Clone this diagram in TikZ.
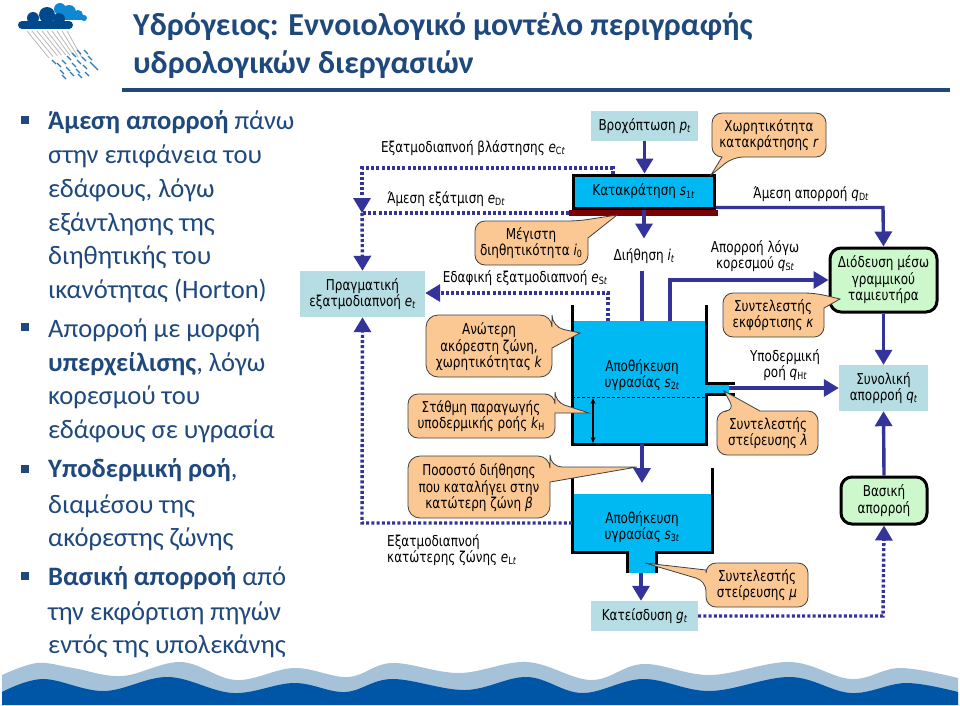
\documentclass[tikz,border=0pt]{standalone}
\usepackage{fontspec}
\setmainfont{Carlito}
\newfontfamily\diagfont[FakeStretch=0.8]{DejaVu Sans}
\usetikzlibrary{arrows.meta}
\definecolor{navy}{HTML}{1F497D}
\definecolor{flowc}{HTML}{333399}
\definecolor{teal}{HTML}{B7DDE4}
\definecolor{waterc}{HTML}{00B9F2}
\definecolor{greenb}{HTML}{CCF8CC}
\definecolor{orangeb}{HTML}{FBC894}
\definecolor{barred}{HTML}{7B0000}
\definecolor{wavel}{HTML}{A6C2D8}
\definecolor{waved}{HTML}{0056A6}
\newcommand\subs[1]{\lower 2.2pt\hbox{\fontsize{10}{10}\selectfont #1}}
\newcommand\dfont{\diagfont\fontsize{15}{16.5}\selectfont}
\tikzset{
  x=1pt,y=-1pt,
  flow/.style={draw=flowc,line width=3.4pt,-{Triangle[length=15pt,width=17pt,fill=flowc]}},
  flowplain/.style={draw=flowc,line width=3.4pt},
  dots/.style={draw=flowc,line width=3.4pt,dash pattern=on 3pt off 2.2pt},
  dotsarrow/.style={dots,-{Triangle[length=15pt,width=17pt,fill=flowc]}},
  wall/.style={draw=black,line width=3pt},
  tealbox/.style={fill=teal,inner sep=0pt,align=center,font=\dfont},
  greenbox/.style={fill=greenb,draw=black,line width=3pt,rounded corners=11pt,inner sep=0pt,align=center,font=\dfont},
  lab/.style={font=\dfont,align=center,inner sep=0pt,text=black},
  calloutshape/.style={fill=orangeb,draw=black!75,line width=.8pt},
  tit/.style={font=\fontsize{32}{32}\selectfont\bfseries,text=navy,anchor=base west,inner sep=0pt},
  bod/.style={font=\fontsize{26.6}{28}\selectfont,text=navy,anchor=base west,inner sep=0pt},
  bul/.style={fill=navy,minimum size=8pt,inner sep=0pt},
}
\newcommand\bline[3]{\node[bod] (#1) at (48,#2) {#3};}
\begin{document}
\begin{tikzpicture}
\path[use as bounding box,fill=white] (0,0) rectangle (960,705);
% waves
\fill[wavel] (2,705) -- plot[smooth,tension=.6] coordinates {(2,675)(37,663)(73,668)(122,676)(181,662)(236,680)(294,668)(348,677)(392,663)(459,673)(527,662)(591,680)(643,664)(710,675)(790,662)(851,679)(900,668)(958,678)} -- (958,705) -- cycle;
\fill[waved] (2,705) -- plot[smooth,tension=.6] coordinates {(2,692)(43,679)(104,691)(168,677)(233,693)(294,683)(345,692)(392,679)(465,690)(527,677)(582,693)(643,679)(710,691)(790,677)(851,693)(906,683)(958,692)} -- (958,705) -- cycle;
% cloud icon
\begin{scope}
\fill[cyan!70!blue] (56,17) rectangle (86,20);
\fill[cyan!70!blue] (60,9) circle (6) (69,12) circle (7) (78,15) circle (5) (84,18) circle (3);
\fill[waved!85!black] (22,21) rectangle (70,29);
\fill[waved!85!black] (22,25) circle (4) (69,25) circle (4) (33,18) circle (6) (47,15) circle (8) (59,19) circle (6);
\foreach \i in {0,...,8}{
  \draw[gray!55,line width=.8pt] ({27+5*\i},31) -- ({49+5*\i-\i*0.8},{58-\i*1.5+\i*\i*0.2});
}
\foreach \a/\b in {52/60,57/63,62/60,67/56,72/53,77/50,84/50,60/70,66/67,72/63,77/60,82/57,88/56,94/66,62/75,70/72,76/69,83/65,90/62,85/72,78/74}{
  \draw[cyan!65!blue!85!black,line width=1.1pt] (\a,\b) -- ++(4,4);
}
\end{scope}
% title
\node[tit] (title1) at (133,35) {Υδρόγειος: Εννοιολογικό μοντέλο περιγραφής};
\node[tit] (title2) at (133,73) {υδρολογικών διεργασιών};
\fill[navy] (122,88) rectangle (950,92);
% body
\node[bul] (bu1) at (25,120) {};
\node[bul] (bu2) at (25,327) {};
\node[bul] (bu3) at (25,469) {};
\node[bul] (bu4) at (25,576) {};
\bline{b1}{129}{\textbf{Άμεση απορροή} πάνω}
\bline{b2}{163}{στην επιφάνεια του}
\bline{b3}{197}{εδάφους, λόγω}
\bline{b4}{231}{εξάντλησης της}
\bline{b5}{264}{διηθητικής του}
\bline{b6}{298}{ικανότητας (Horton)}
\bline{b7}{337}{Απορροή με μορφή}
\bline{b8}{371}{\textbf{υπερχείλισης}, λόγω}
\bline{b9}{404}{κορεσμού του}
\bline{b10}{438}{εδάφους σε υγρασία}
\bline{b11}{477}{\textbf{Υποδερμική ροή},}
\bline{b12}{513}{διαμέσου της}
\bline{b13}{546}{ακόρεστης ζώνης}
\bline{b14}{585}{\textbf{Βασική απορροή} από}
\bline{b15}{620}{την εκφόρτιση πηγών}
\bline{b16}{653}{εντός της υπολεκάνης}
% tanks
\fill[waterc] (572,321) rectangle (706,444);
\fill[waterc] (706,384) rectangle (729,393);
\fill[waterc] (572,494) rectangle (712,552);
\fill[waterc] (627,552) rectangle (656,573);
\coordinate (t2top) at (642,321);
\coordinate (t2inl) at (608,321);
\coordinate (t2sat) at (670,321);
\coordinate (t2bot) at (642,444);
\coordinate (t2out) at (729,388);
\coordinate (t3in) at (642,483);
\coordinate (t3left) at (572,523);
\coordinate (t3out) at (641,573);
\coordinate (corner1) at (362,168);
\coordinate (corner2) at (613,168);
\coordinate (join) at (362,213);
\draw[black,line width=.9pt,dash pattern=on 3pt off 2pt] (572,397) -- (706,397);
\draw[wall] (572,305) -- (572,444) -- (706,444) -- (706,394) -- (735,394);
\draw[wall] (706,305) -- (706,383) -- (735,383);
\draw[wall] (572,468) -- (572,552) -- (627,552) -- (627,573);
\draw[wall] (656,573) -- (656,552) -- (712,552) -- (712,468);
\draw[black,line width=1.2pt,{Stealth[length=6pt,width=5pt]}-{Stealth[length=6pt,width=5pt]}] (593,398) -- (593,443);
% boxes
\node[tealbox,minimum width=107pt,minimum height=30pt] (rain) at (644.5,126) {Βροχόπτωση \textit{p}\subs{\textit{t}}};
\node[tealbox,minimum width=125pt,minimum height=46pt] (real) at (362.5,294) {Πραγματική\\εξατμοδιαπνοή \textit{e}\subs{\textit{t}}};
\node[tealbox,minimum width=89pt,minimum height=46pt] (total) at (883.5,388) {Συνολική\\απορροή \textit{q}\subs{\textit{t}}};
\node[tealbox,minimum width=107pt,minimum height=30pt] (recharge) at (644.5,616) {Κατείσδυση \textit{g}\subs{\textit{t}}};
\node[greenbox,minimum width=107pt,minimum height=64pt] (route) at (883.5,280) {Διόδευση μέσω\\γραμμικού\\ταμιευτήρα};
\node[greenbox,minimum width=86pt,minimum height=47pt] (base) at (884,500.5) {Βασική\\απορροή};
\node[fill=barred,minimum width=149pt,minimum height=6pt,inner sep=0pt] (bar) at (643.5,213) {};
\node[fill=waterc,draw=black,line width=3pt,minimum width=141pt,minimum height=33pt,inner sep=0pt,font=\dfont] (tank1) at (643.5,191.5) {Κατακράτηση \textit{s}\subs{1\textit{t}}};
% connectors
\draw[flow] (rain.south) -- (rain.south |- tank1.north);
\draw[flow] (tank1.south) ++(0.5,0) -- ++(0,29);
\coordinate (infl) at (642,271);
\draw[flowplain] (infl) -- (t2top);
\draw[flow] (t2sat) -- (670,280) -- (route.west);
\draw[flow] (tank1.east) ++(0,16) -- (883,207.5) -- (route.north);
\draw[flow] (route.south) -- (total.north);
\draw[flow] (t2out) -- (t2out -| total.west);
\draw[flow] (base.north) -- (total.south);
\draw[flow] (t2bot) -- (t3in);
\draw[flow] (t3out) -- (recharge.north -| t3out);
\draw[dotsarrow] (recharge.east) -- (883,616) -- (base.south);
\draw[dotsarrow] (tank1.north -| corner2) -- (corner2) -- (corner1) -- (join);
\draw[dots] (bar.west) -- (join);
\draw[dotsarrow] (join) -- (real.north);
\draw[dotsarrow] (t2inl) -- (608,293) -- (real.east |- 0,293);
\draw[dotsarrow] (t3left) -- (362,523) -- (real.south);
% callouts
\draw[calloutshape] (712,135) [rounded corners=10pt] -- (712,113) -- (826,113) -- (826,157) -- (733,157) [sharp corners] -- (711,175) -- (722,157) [rounded corners=10pt] -- (712,157) -- cycle;
\draw[calloutshape] (475,243) [rounded corners=10pt] -- (475,221) -- (578,221) [sharp corners] -- (617,215) -- (588,238) [rounded corners=10pt] -- (588,265) -- (475,265) -- cycle;
\draw[calloutshape] (426,346) [rounded corners=12pt] -- (426,315) -- (552,315) -- (552,327) [sharp corners] -- (580,333) -- (552,348) [rounded corners=12pt] -- (552,377) -- (426,377) -- cycle;
\draw[calloutshape] (408,416) [rounded corners=10pt] -- (408,394) -- (555,394) -- (555,402) [sharp corners] -- (589,413) -- (555,413) [rounded corners=10pt] -- (555,438) -- (408,438) -- cycle;
\draw[calloutshape] (408,487) [rounded corners=12pt] -- (408,456) -- (550,456) -- (550,467) [sharp corners] -- (637,467) -- (550,482) [rounded corners=12pt] -- (550,518) -- (408,518) -- cycle;
\draw[calloutshape] (723,315) [rounded corners=10pt] -- (723,293) -- (815,293) [sharp corners] -- (840,299) -- (824,308) [rounded corners=10pt] -- (824,337) -- (723,337) -- cycle;
\draw[calloutshape] (717,433) [rounded corners=10pt] -- (717,411) -- (735,411) [sharp corners] -- (724,391) -- (760,411) [rounded corners=10pt] -- (818,411) -- (818,455) -- (717,455) -- cycle;
\draw[calloutshape] (757,563) [rounded corners=10pt] -- (808,563) -- (808,607) -- (706,607) -- (706,581) [sharp corners] -- (645,563) -- (706,570) [rounded corners=10pt] -- (706,563) -- cycle;
% labels
\node[lab,anchor=base] (lct) at (473,152) {Εξατμοδιαπνοή βλάστησης \textit{e}\subs{C\textit{t}}};
\node[lab,anchor=base] (ldt) at (446,203) {Άμεση εξάτμιση \textit{e}\subs{D\textit{t}}};
\node[lab,anchor=base] (lst) at (525,282) {Εδαφική εξατμοδιαπνοή \textit{e}\subs{S\textit{t}}};
\node[lab,anchor=base] (lqd) at (811,198) {Άμεση απορροή \textit{q}\subs{D\textit{t}}};
\node[lab,anchor=base] (lit) at (644,260) {Διήθηση \textit{i}\subs{\textit{t}}};
\node[lab] (cap) at (769,135) {Χωρητικότητα\\κατακράτησης \textit{r}};
\node[lab] (i0) at (531,243) {Μέγιστη\\διηθητικότητα \textit{i}\subs{0}};
\node[lab] (qs) at (755,256) {Απορροή λόγω\\κορεσμού \textit{q}\subs{S\textit{t}}};
\node[lab] (upper) at (489,347) {Ανώτερη\\ακόρεστη ζώνη,\\χωρητικότητας \textit{k}};
\node[lab] (kap) at (773,315) {Συντελεστής\\εκφόρτισης \textit{κ}};
\node[lab] (s2) at (642,375) {Αποθήκευση\\υγρασίας \textit{s}\subs{2\textit{t}}};
\node[lab] (qh) at (785,365) {Υποδερμική\\ροή \textit{q}\subs{H\textit{t}}};
\node[lab] (kh) at (481,416) {Στάθμη παραγωγής\\υποδερμικής ροής \textit{k}\subs{H}};
\node[lab] (lam) at (768,433) {Συντελεστής\\στείρευσης \textit{λ}};
\node[lab] (beta) at (479,488) {Ποσοστό διήθησης\\που καταλήγει στην\\κατώτερη ζώνη \textit{β}};
\node[lab] (s3) at (642,527) {Αποθήκευση\\υγρασίας \textit{s}\subs{3\textit{t}}};
\node[lab,align=left,anchor=west] (elt) at (387,550) {Εξατμοδιαπνοή\\κατώτερης ζώνης \textit{e}\subs{L\textit{t}}};
\node[lab] (mu) at (757,585) {Συντελεστής\\στείρευσης \textit{μ}};
\end{tikzpicture}
\end{document}
